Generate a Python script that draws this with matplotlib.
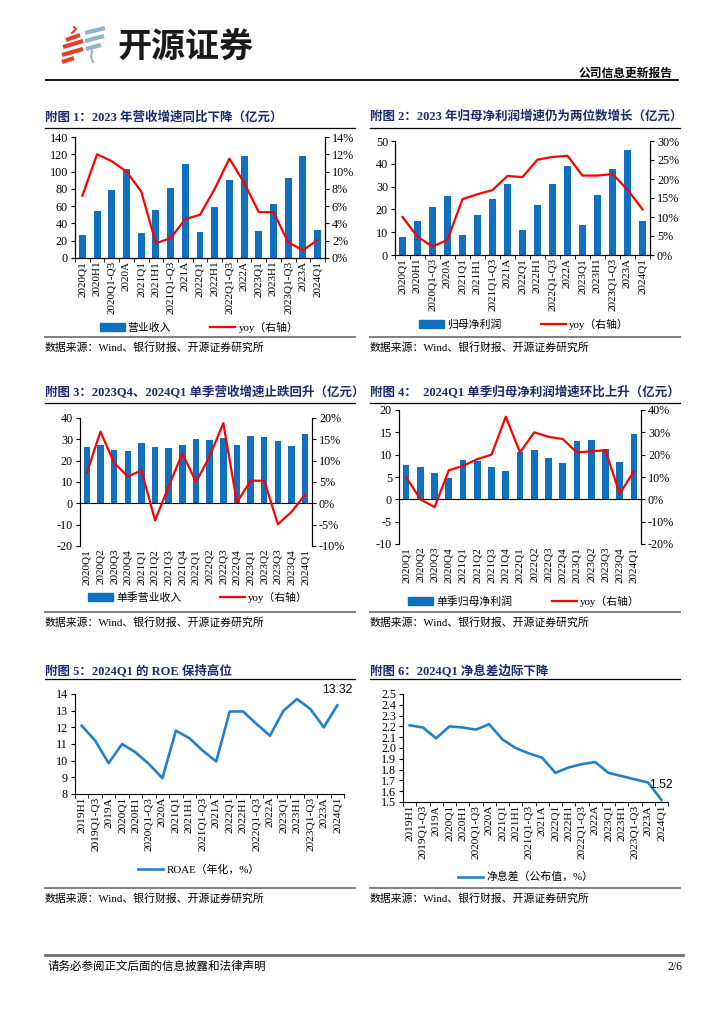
import numpy as np
import matplotlib.pyplot as plt
from matplotlib.patches import Patch
from matplotlib.lines import Line2D
from matplotlib.ticker import FuncFormatter

plt.rcParams['font.family'] = ['Liberation Serif', 'Noto Sans CJK SC']
plt.rcParams['axes.unicode_minus'] = False

# ---- 数据 ----
cum_periods = ['2020Q1', '2020H1', '2020Q1-Q3', '2020A', '2021Q1', '2021H1', '2021Q1-Q3', '2021A',
               '2022Q1', '2022H1', '2022Q1-Q3', '2022A', '2023Q1', '2023H1', '2023Q1-Q3', '2023A', '2024Q1']
revenue = [26.5, 54, 79, 103.5, 28.5, 55, 80.5, 108.5, 30, 59.5, 90, 117.5, 31.5, 62.5, 92, 118.5, 32.3]
revenue_yoy = [7.2, 12.0, 11.2, 10.0, 7.7, 1.7, 2.3, 4.5, 5.0, 8.0, 11.5, 8.7, 5.3, 5.3, 1.8, 0.9, 2.1]
profit = [7.8, 15, 21, 25.8, 8.9, 17.5, 24.5, 31, 10.8, 21.8, 31, 39.2, 13.1, 26.4, 37.6, 46, 14.7]
profit_yoy = [10.0, 4.8, 2.2, 4.0, 14.7, 16.0, 17.1, 20.8, 20.5, 25.1, 25.8, 26.1, 20.9, 20.9, 21.3, 17.2, 12.0]

quarters = ['2020Q1', '2020Q2', '2020Q3', '2020Q4', '2021Q1', '2021Q2', '2021Q3', '2021Q4',
            '2022Q1', '2022Q2', '2022Q3', '2022Q4', '2023Q1', '2023Q2', '2023Q3', '2023Q4', '2024Q1']
q_revenue = [26.5, 27.5, 25, 24.5, 28.5, 26.5, 26, 27.5, 30, 29.5, 30.5, 27.5, 31.5, 31, 29.2, 26.8, 32.3]
q_revenue_yoy = [7.2, 16.8, 9.5, 6.3, 7.7, -4.0, 4.0, 11.7, 5.0, 11.0, 18.8, 0.2, 5.3, 5.3, -4.9, -2.0, 2.1]
q_profit = [7.7, 7.2, 6.0, 4.7, 8.8, 8.5, 7.2, 6.4, 10.7, 11.0, 9.2, 8.2, 13.0, 13.3, 11.2, 8.4, 14.6]
q_profit_yoy = [10.0, 0.0, -3.5, 13.0, 15.0, 18.0, 20.0, 37.0, 21.0, 30.0, 28.0, 27.0, 21.0, 21.5, 22.0, 2.5, 12.5]

periods = ['2019H1', '2019Q1-Q3', '2019A', '2020Q1', '2020H1', '2020Q1-Q3', '2020A', '2021Q1', '2021H1',
           '2021Q1-Q3', '2021A', '2022Q1', '2022H1', '2022Q1-Q3', '2022A', '2023Q1', '2023H1',
           '2023Q1-Q3', '2023A', '2024Q1']
roae = [12.1, 11.2, 9.85, 11.0, 10.5, 9.8, 8.95, 11.8, 11.35, 10.6, 9.95, 12.95, 12.95, 12.2, 11.5,
        13.0, 13.7, 13.1, 12.0, 13.32]
nim = [2.21, 2.19, 2.09, 2.20, 2.19, 2.17, 2.22, 2.08, 2.00, 1.95, 1.91, 1.77, 1.82, 1.85, 1.87,
       1.77, 1.74, 1.71, 1.68, 1.52]

BLUE = '#0f70c0'
LBLUE = '#2580c8'
NAVY = '#1c2a6e'
SOURCE = '数据来源：Wind、银行财报、开源证券研究所'

W, H = 724, 1024
fig = plt.figure(figsize=(7.24, 10.24), dpi=100)

# 整页坐标（像素），用于页眉页脚、标题等
page = fig.add_axes([0, 0, 1, 1], zorder=-1)
page.set_xlim(0, W)
page.set_ylim(H, 0)
page.axis('off')


def px_axes(l, t, r, b):
    return fig.add_axes([l / W, 1 - b / H, (r - l) / W, (b - t) / H])


def fig_xy(x, y):
    return (x / W, 1 - y / H)


def frame(x0, x1, title, ty, ly, sy):
    # 标题 + 下划线 + 数据来源
    page.text(x0, ty, title, fontsize=9, fontweight='bold', color=NAVY, va='center')
    page.plot([x0, x1], [ly, ly], color='black', lw=0.9)
    page.plot([x0, x1], [sy, sy], color='#7f7f7f', lw=1.4)
    page.text(x0, sy + 10, SOURCE, fontsize=7.8, va='center')


def bar_line(box, cats, bars, yoy, ylim, yticks, y2lim, y2ticks, bar_label, leg, zero_line=False):
    ax = px_axes(*box)
    x = np.arange(len(cats))
    ax.bar(x, bars, width=0.47, color=BLUE, zorder=2)
    ax.set_xlim(-0.5, len(cats) - 0.5)
    ax.set_ylim(*ylim)
    ax.set_yticks(yticks)
    ax.set_xticks(x)
    ax.set_xticklabels(cats, rotation=90, fontsize=8)
    ax.tick_params(axis='x', length=0, pad=2)
    ax.tick_params(axis='y', labelsize=8.7, length=3, pad=2)
    ax.spines['top'].set_visible(False)
    if zero_line:
        ax.spines['bottom'].set_visible(False)
        ax.axhline(0, color='black', lw=0.8, zorder=3)
    else:
        ax.set_xticks(np.arange(len(cats) + 1) - 0.5, minor=True)
        ax.tick_params(axis='x', which='minor', length=3)

    ax2 = ax.twinx()
    ax2.plot(x, yoy, color='#ff0000', lw=1.6, zorder=4)
    ax2.set_ylim(*y2lim)
    ax2.set_yticks(y2ticks)
    ax2.yaxis.set_major_formatter(FuncFormatter(lambda v, p: f'{v:.0f}%'))
    ax2.tick_params(axis='y', labelsize=8.7, length=3, pad=2)
    ax2.spines['top'].set_visible(False)
    if zero_line:
        ax2.spines['bottom'].set_visible(False)

    handles = [Patch(color=BLUE), Line2D([], [], color='#ff0000', lw=1.6)]
    fig.legend(handles, [bar_label, 'yoy（右轴）'], loc='center', bbox_to_anchor=fig_xy(*leg),
               ncol=2, frameon=False, fontsize=7.8, columnspacing=3.6, handlelength=2.3,
               handletextpad=0.3, borderaxespad=0)
    return ax


def line_chart(box, cats, vals, ylim, yticks, fmt, label, leg, last_label):
    ax = px_axes(*box)
    x = np.arange(len(cats))
    ax.plot(x, vals, color=LBLUE, lw=1.9)
    ax.set_xlim(-0.5, len(cats) - 0.5)
    ax.set_ylim(*ylim)
    ax.set_yticks(yticks)
    ax.yaxis.set_major_formatter(FuncFormatter(lambda v, p: fmt.format(v)))
    ax.set_xticks(x)
    ax.set_xticklabels(cats, rotation=90, fontsize=8.2)
    ax.set_xticks(np.arange(len(cats) + 1) - 0.5, minor=True)
    ax.tick_params(axis='x', length=0, pad=2)
    ax.tick_params(axis='x', which='minor', length=3)
    ax.tick_params(axis='y', labelsize=8.7, length=3, pad=2)
    ax.spines['top'].set_visible(False)
    ax.spines['right'].set_visible(False)
    ax.annotate(last_label, (x[-1], vals[-1]), xytext=(0, 11), textcoords='offset points',
                ha='center', va='center', fontsize=8.7, family='Liberation Sans')
    fig.legend([Line2D([], [], color=LBLUE, lw=1.9)], [label], loc='center',
               bbox_to_anchor=fig_xy(*leg), frameon=False, fontsize=7.8,
               handlelength=2.3, handletextpad=0.3, borderaxespad=0)
    return ax


# ---- 页眉 ----
red = '#e0412f'
grey_blue = '#93b2c5'
for (x0, y0, x1, y1) in [(66, 40, 80, 35), (63, 47, 83, 41), (62, 55, 83, 49), (62, 62, 74, 58)]:
    page.plot([x0, x1], [y0, y1], color=red, lw=3, solid_capstyle='butt')
page.plot([72, 76, 74], [33, 29, 27], color=red, lw=1.5)
for (x0, y0, x1, y1) in [(85, 33, 105, 28), (85, 41, 104, 36), (86, 49, 101, 45)]:
    page.plot([x0, x1], [y0, y1], color=grey_blue, lw=3, solid_capstyle='butt')
page.plot([92, 91, 93], [51, 57, 62], color=grey_blue, lw=1.5)
page.text(117, 46, '开源证券', fontsize=24.5, fontweight='bold', family='Noto Sans CJK SC',
          va='center', color='#1a1a1a')
page.text(673, 74, '公司信息更新报告', fontsize=8.5, fontweight='bold', ha='right', va='center')
page.plot([46, 678], [80, 80], color='black', lw=1.3)

# ---- 页脚 ----
page.plot([45, 683], [955, 955], color='#707070', lw=2)
page.text(47, 967, '请务必参阅正文后面的信息披露和法律声明', fontsize=8.3, va='center')
page.text(682, 967, '2/6', fontsize=8.5, ha='right', va='center')

# ---- 附图 1 / 2 ----
frame(45, 355, '附图 1：2023 年营收增速同比下降（亿元）', 117, 128, 337)
frame(370, 680, '附图 2：2023 年归母净利润增速仍为两位数增长（亿元）', 117, 128, 337)
bar_line((75, 137, 325, 258), cum_periods, revenue, revenue_yoy, (0, 140), range(0, 141, 20),
         (0, 14), range(0, 15, 2), '营业收入', (199, 327))
bar_line((395, 141, 650, 255), cum_periods, profit, profit_yoy, (0, 50), range(0, 51, 10),
         (0, 30), range(0, 31, 5), '归母净利润', (524, 324))

# ---- 附图 3 / 4 ----
frame(45, 355, '附图 3：2023Q4、2024Q1 单季营收增速止跌回升（亿元）', 393, 403, 612)
frame(370, 680, '附图 4：  2024Q1 单季归母净利润增速环比上升（亿元）', 393, 403, 612)
bar_line((80, 418, 312, 546), quarters, q_revenue, q_revenue_yoy, (-20, 40), range(-20, 41, 10),
         (-10, 20), range(-10, 21, 5), '单季营业收入', (198, 597), zero_line=True)
bar_line((399, 410, 641, 544), quarters, q_profit, q_profit_yoy, (-10, 20), range(-10, 21, 5),
         (-20, 40), range(-20, 41, 10), '单季归母净利润', (524, 601), zero_line=True)

# ---- 附图 5 / 6 ----
frame(45, 355, '附图 5：2024Q1 的 ROE 保持高位', 671, 679, 888)
frame(370, 680, '附图 6：2024Q1 净息差边际下降', 671, 679, 888)
line_chart((75, 694, 344, 794), periods, roae, (8, 14), range(8, 15), '{:.0f}',
           'ROAE（年化，%）', (199, 870), f'{roae[-1]:.2f}')
line_chart((403, 694, 668, 802), periods, nim, (1.5, 2.5), np.arange(1.5, 2.51, 0.1), '{:.1f}',
           '净息差（公布值，%）', (526, 877), f'{nim[-1]:.2f}')

fig.savefig('out.png', dpi=100)
